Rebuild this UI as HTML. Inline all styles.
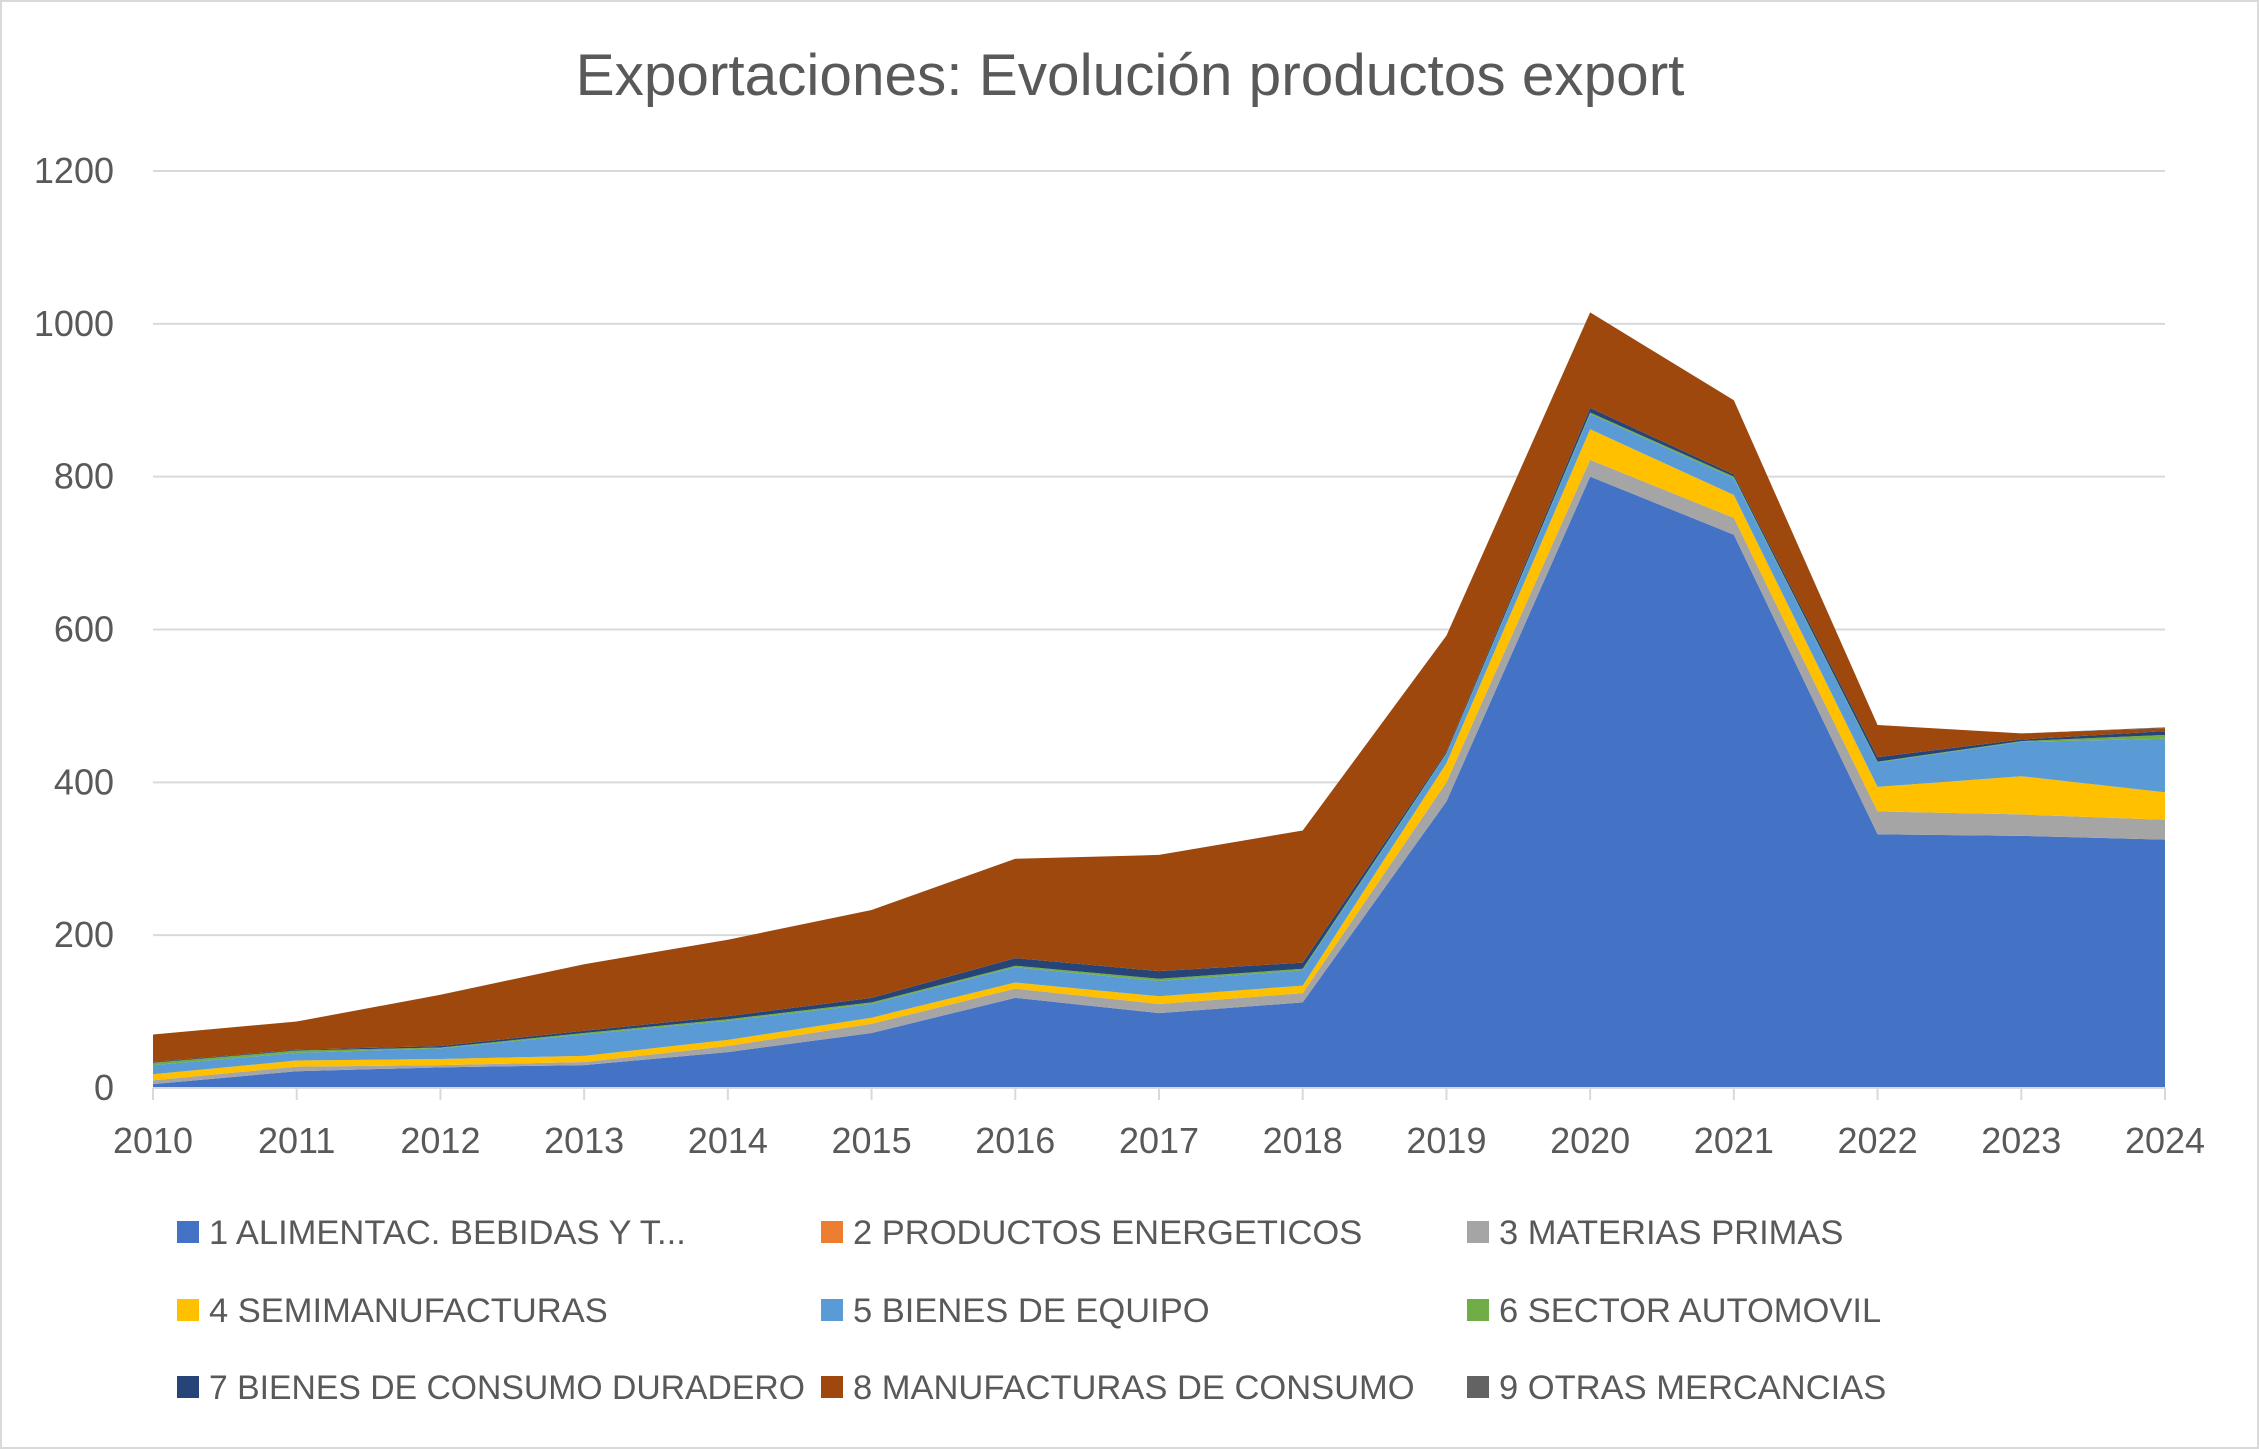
<!DOCTYPE html>
<html><head><meta charset="utf-8"><style>
html,body{margin:0;padding:0;background:#fff;}
svg{display:block;font-family:"Liberation Sans",sans-serif;}
</style></head><body>
<svg id="chart" width="2259" height="1449" viewBox="0 0 2259 1449">
<rect x="1" y="1" width="2257" height="1447" fill="#fff" stroke="#d9d9d9" stroke-width="2"/>
<text x="1130" y="95" text-anchor="middle" font-size="58.5" fill="#595959">Exportaciones: Evolución productos export</text>
<g id="grid"></g><g id="areas"></g><g id="axes"></g><g id="legend"></g>
</svg>
<script>
const years=["2010","2011","2012","2013","2014","2015","2016","2017","2018","2019","2020","2021","2022","2023","2024"];
const yTicks=[0,200,400,600,800,1000,1200];
const s1=[5,22,27,30,47,72,118,98,112,375,800,724,332,330,325];
const s2=[0,0,0,0,0,0,0,0,0,0,0,0,0,0,0];
const s3=[5,6,3,4,8,12,12,12,12,25,22,22,30,28,26];
const s4=[8,8,8,8,8,8,8,10,10,25,40,30,32,50,36];
const s5=[12,10,14,28,25,18,20,20,20,12,20,22,32,45,70];
const s6=[3,3,1,2,2,2,2,3,2,1,2,2,1,1,5];
const s7=[1,1,2,3,4,6,10,10,8,2,6,3,6,2,5];
const s8=[36,37,67,87,100,115,130,152,173,152,125,97,42,8,4];
const s9=[0,0,0,0,0,0,0,0,0,0,0,0,0,0,1];
const seriesNames=["1 ALIMENTAC. BEBIDAS Y T...","2 PRODUCTOS ENERGETICOS","3 MATERIAS PRIMAS","4 SEMIMANUFACTURAS","5 BIENES DE EQUIPO","6 SECTOR AUTOMOVIL","7 BIENES DE CONSUMO DURADERO","8 MANUFACTURAS DE CONSUMO","9 OTRAS MERCANCIAS"];
const series=[s1,s2,s3,s4,s5,s6,s7,s8,s9];
const colors=["#4472c4","#ed7d31","#a5a5a5","#ffc000","#5b9bd5","#70ad47","#264478","#9e480e","#636363"];
const NS="http://www.w3.org/2000/svg";
const X0=153,X1=2165,Y0=1088,Y1=171;
const xs=i=>X0+(X1-X0)*i/(years.length-1);
const ys=v=>Y0-(Y0-Y1)*v/1200;
function mk(t,a,p){const e=document.createElementNS(NS,t);for(const k in a)e.setAttribute(k,a[k]);p.appendChild(e);return e;}
const grid=document.getElementById('grid'),axes=document.getElementById('axes'),areas=document.getElementById('areas'),leg=document.getElementById('legend');
yTicks.forEach(v=>{
 if(v>0){const l=mk('line',{x1:X0,x2:X1,y1:ys(v),y2:ys(v),stroke:'#d9d9d9','stroke-width':2},grid);
 
 }
 const t=mk('text',{x:114,y:ys(v)+12,'text-anchor':'end','font-size':36,fill:'#595959'},axes);t.textContent=v;
 
 
});
const base=years.map(()=>0);
series.forEach((s,k)=>{
 const top=s.map((v,i)=>base[i]+v);
 let d='M'+years.map((_,i)=>xs(i)+','+ys(top[i])).join(' L');
 for(let i=years.length-1;i>=0;i--)d+=' L'+xs(i)+','+ys(base[i]);
 const p=mk('path',{d:d+'Z',fill:colors[k]},areas);
 
 
 top.forEach((v,i)=>base[i]=v);
});
const ax=mk('line',{x1:X0,x2:X1,y1:Y0,y2:Y0,stroke:'#d9d9d9','stroke-width':2},axes);


years.forEach((y,i)=>{
 const tk=mk('line',{x1:xs(i),x2:xs(i),y1:Y0,y2:Y0+12,stroke:'#d9d9d9','stroke-width':2},axes);
 
 
 const t=mk('text',{x:xs(i),y:1153,'text-anchor':'middle','font-size':36,fill:'#595959'},axes);t.textContent=y;
 
 
});
const colX=[177,821,1467],rowY=[1232,1310,1387];
seriesNames.forEach((n,k)=>{
 const g=mk('g',{},leg);
 
 
 const x=colX[k%3],y=rowY[Math.floor(k/3)];
 mk('rect',{x:x,y:y-11,width:22,height:22,fill:colors[k]},g);
 const t=mk('text',{x:x+32,y:y+12,'font-size':34.5,fill:'#595959'},g);t.textContent=n;
 if(k===6){t.setAttribute('textLength','596');t.setAttribute('lengthAdjust','spacingAndGlyphs');}
});
</script>
</body></html>
